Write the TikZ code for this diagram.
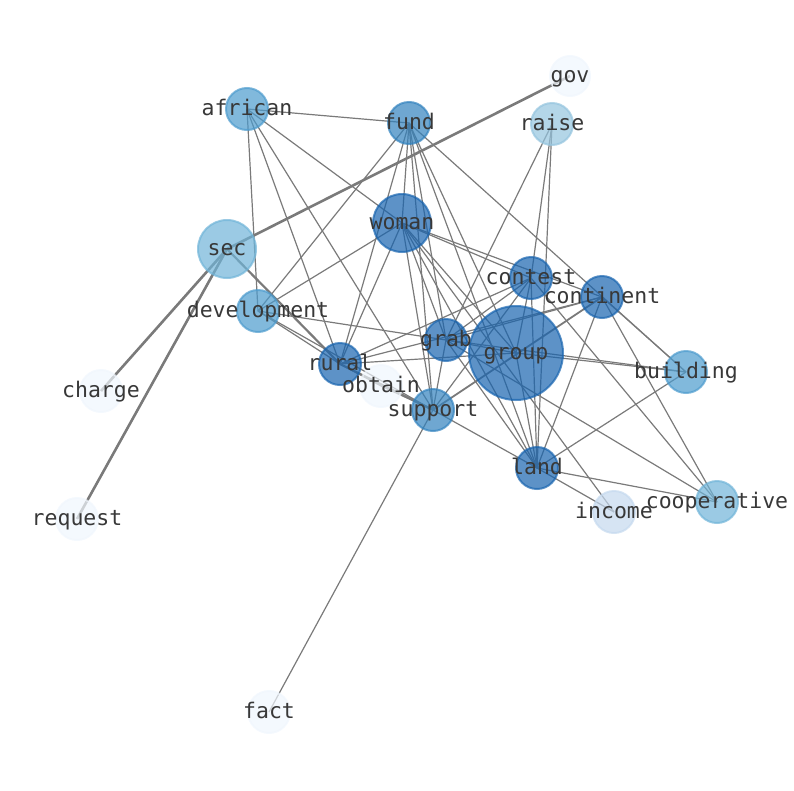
\documentclass[tikz,border=0pt]{standalone}
\usepackage{fontspec}
\setmonofont{DejaVu Sans Mono}

\definecolor{cdark}{RGB}{24,100,175}
\definecolor{cmid}{RGB}{50,130,190}
\definecolor{clight}{RGB}{76,155,205}
\definecolor{csec}{RGB}{112,180,216}
\definecolor{craise}{RGB}{148,196,222}
\definecolor{cincome}{RGB}{197,217,238}
\definecolor{cpale}{RGB}{240,246,253}
\definecolor{edgegray}{RGB}{122,122,122}

\pgfdeclarelayer{edges}
\pgfsetlayers{edges,main}

\begin{document}
\begin{tikzpicture}[x=1pt, y=-1pt,
  word/.style 2 args={circle, inner sep=0pt, minimum size=2*#1, line width=2pt,
    fill=#2, draw=#2, fill opacity=0.7, draw opacity=0.7},
  wordtext/.style={font=\ttfamily\fontsize{21.5}{22}\selectfont, text=black!78,
    text height=17pt, text depth=4pt, inner sep=0pt},
  link/.style={draw=edgegray, line width=1.2pt},
  heavy/.style={draw=edgegray, line width=2.6pt}]

\useasboundingbox (0,0) rectangle (794,790);

% words
\node[word={20}{cpale}] (gov) at (570,76) {};
\node[word={21}{clight}] (african) at (247,109) {};
\node[word={21}{cmid}] (fund) at (409,123) {};
\node[word={21}{craise}] (raise) at (552,124) {};
\node[word={29}{cdark}] (woman) at (402,223) {};
\node[word={29}{csec}] (sec) at (227,249) {};
\node[word={21}{cdark}] (contest) at (531,278) {};
\node[word={21}{cdark}] (continent) at (602,297) {};
\node[word={21}{clight}] (development) at (258,311) {};
\node[word={21}{cdark}] (grab) at (446,340) {};
\node[word={47}{cdark}] (group) at (516,353) {};
\node[word={21}{cdark}] (rural) at (340,364) {};
\node[word={21}{clight}] (building) at (686,372) {};
\node[word={21}{cpale}] (obtain) at (381,386) {};
\node[word={21}{cpale}] (charge) at (101,391) {};
\node[word={21}{cmid}] (support) at (433,410) {};
\node[word={21}{cdark}] (land) at (537,468) {};
\node[word={21}{cincome}] (income) at (614,512) {};
\node[word={21}{csec}] (cooperative) at (717,502) {};
\node[word={21}{cpale}] (request) at (77,519) {};
\node[word={21}{cpale}] (fact) at (269,712) {};

% co-occurrence links, under the words
\begin{pgfonlayer}{edges}
\foreach \a/\b in {african/fund, african/development, african/rural, african/support,
    african/woman, fund/development, fund/woman, fund/rural, fund/grab, fund/group,
    fund/land, fund/building, fund/support, raise/contest, raise/land, raise/grab,
    woman/development, woman/rural, woman/contest, woman/continent, woman/support,
    woman/grab, woman/group, woman/land, woman/income, contest/rural, contest/grab,
    contest/group, contest/support, contest/land, contest/cooperative,
    continent/rural, continent/grab, continent/building, continent/cooperative,
    continent/land, development/grab, development/rural, development/support,
    grab/group, grab/support, grab/land, grab/building, grab/cooperative,
    group/rural, group/building, group/land, rural/obtain, obtain/support,
    support/land, support/fact, land/building, land/cooperative, land/income}
  \draw[link] (\a.center) -- (\b.center);
\foreach \a/\b in {sec/gov, sec/charge, sec/request}
  \draw[heavy] (\a.center) -- (\b.center);
\draw[heavy, line width=2.2pt] (sec.center) -- (rural.center);
\draw[heavy, line width=2.2pt] (rural.center) -- (support.center);
\draw[heavy, line width=1.8pt] (support.center) -- (continent.center);
\end{pgfonlayer}

% labels on top
\foreach \n in {gov, african, fund, raise, woman, sec, contest, continent, development,
    grab, group, rural, building, obtain, charge, support, land, income, cooperative,
    request, fact}
  \node[wordtext] (\n-t) at (\n.center) {\n};

\end{tikzpicture}
\end{document}
